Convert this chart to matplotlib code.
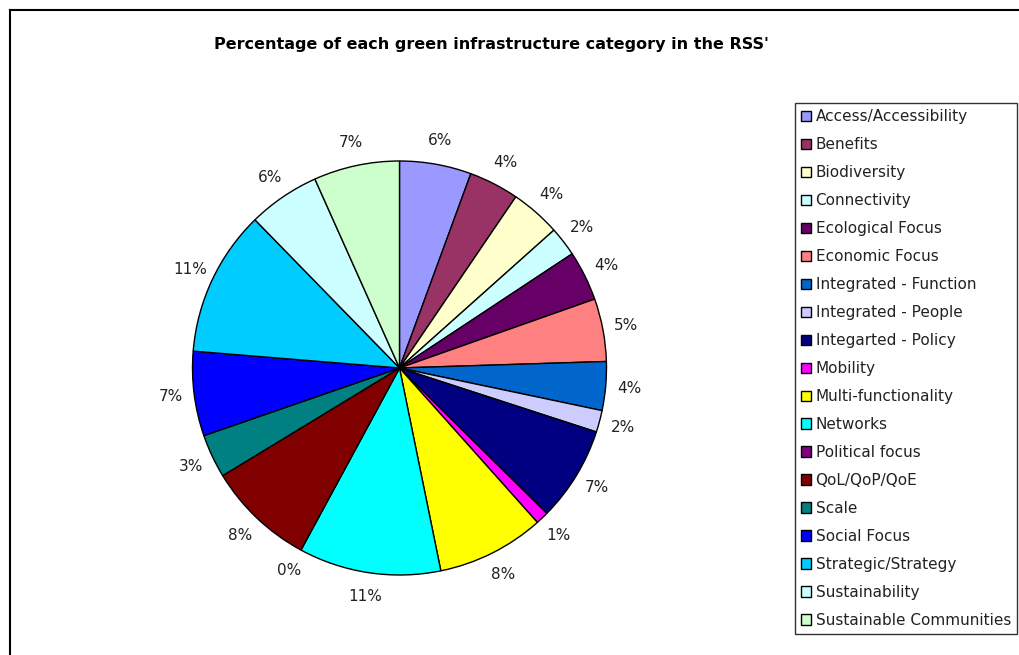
import matplotlib.pyplot as plt
from matplotlib.lines import Line2D

plt.rcParams['font.family'] = ['DejaVu Sans']

categories = [
    "Access/Accessibility", "Benefits", "Biodiversity", "Connectivity",
    "Ecological Focus", "Economic Focus", "Integrated - Function",
    "Integrated - People", "Integarted - Policy", "Mobility",
    "Multi-functionality", "Networks", "Political focus", "QoL/QoP/QoE",
    "Scale", "Social Focus", "Strategic/Strategy", "Sustainability",
    "Sustainable Communities",
]
# share of each category (percent)
shares = [5.6, 3.9, 3.9, 2.3, 3.9, 4.9, 3.8, 1.7, 7.4, 1.0,
          8.4, 11.1, 0.0, 8.4, 3.4, 6.6, 11.4, 5.6, 6.7]
colors = [
    "#9999FF", "#993366", "#FFFFCC", "#CCFFFF", "#660066", "#FF8080",
    "#0066CC", "#CCCCFF", "#000080", "#FF00FF", "#FFFF00", "#00FFFF",
    "#800080", "#800000", "#008080", "#0000FF", "#00CCFF", "#CCFFFF",
    "#CCFFCC",
]

W, H = 1019, 655
fig = plt.figure(figsize=(W / 100, H / 100), dpi=100)

# outer chart frame (runs off the right and bottom edges)
fig.add_artist(Line2D([10 / W, 1.0], [1 - 10 / H, 1 - 10 / H],
                      transform=fig.transFigure, color="black", lw=1.5))
fig.add_artist(Line2D([10 / W, 10 / W], [0.0, 1 - 10 / H],
                      transform=fig.transFigure, color="black", lw=1.5))

fig.text(491.5 / W, 1 - 45 / H,
         "Percentage of each green infrastructure category in the RSS'",
         ha="center", va="center", fontsize=11.5, fontweight="bold")

cx, cy, r = 399.5, 368.0, 207.0
ax = fig.add_axes([(cx - r) / W, (H - cy - r) / H, 2 * r / W, 2 * r / H])
wedges, texts = ax.pie(
    shares, colors=colors, startangle=90, counterclock=False, radius=1.0,
    labels=[f"{v / sum(shares) * 100:.0f}%" for v in shares],
    labeldistance=1.115,
    wedgeprops=dict(edgecolor="black", linewidth=1.0),
    textprops=dict(fontsize=11, color="#222222"),
)
for t in texts:
    t.set_ha("center")
    t.set_va("center")
ax.set_xlim(-1.0, 1.0)
ax.set_ylim(-1.0, 1.0)
ax.set_aspect("equal")

leg = fig.legend(
    wedges, categories, loc="upper left",
    bbox_to_anchor=(795 / W, 1 - 103 / H),
    fontsize=11, frameon=True, fancybox=False, shadow=False,
    handlelength=0.65, handleheight=0.65, handletextpad=0.3,
    labelspacing=0.85, borderpad=0.4, borderaxespad=0.0,
    labelcolor="#222222",
)
leg.get_frame().set_edgecolor("black")
leg.get_frame().set_linewidth(1.0)

fig.savefig("out.png", dpi=100)
